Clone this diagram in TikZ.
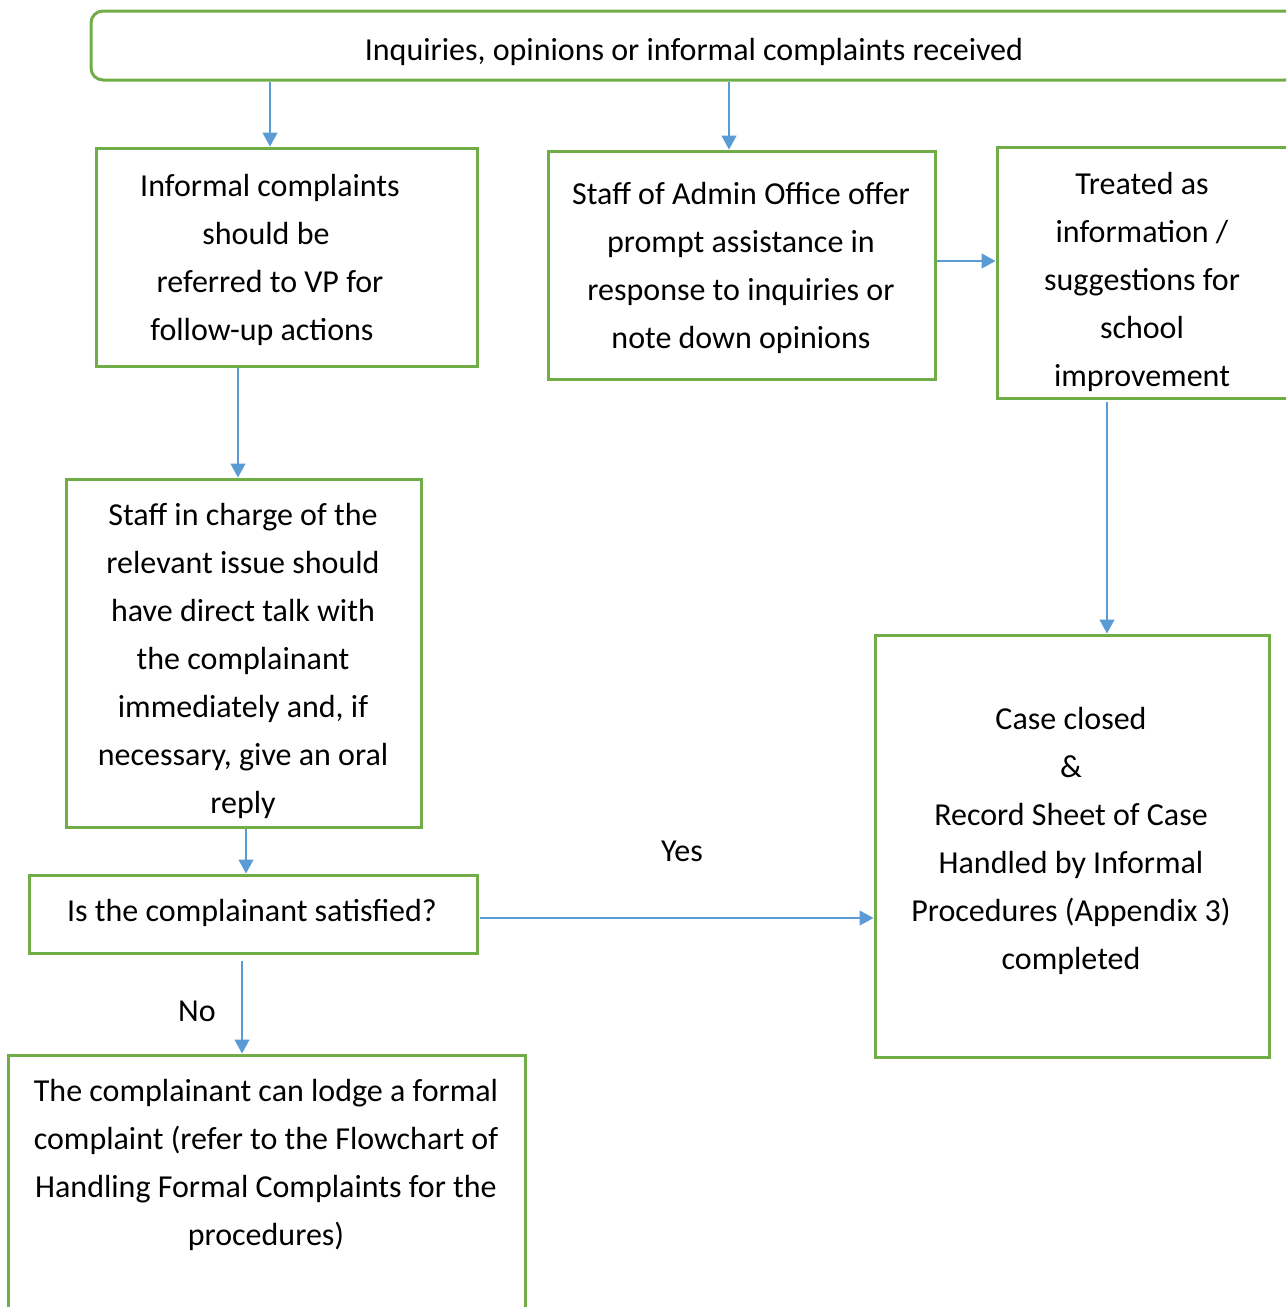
\documentclass[tikz,border=0pt]{standalone}
\usepackage{fontspec}
\setmainfont{Carlito}
\usetikzlibrary{arrows.meta,calc}
\definecolor{bgreen}{HTML}{70AD47}
\definecolor{ablue}{HTML}{5B9BD5}
\begin{document}
\begin{tikzpicture}[x=1pt,y=-1pt,
 box/.style={draw=bgreen, line width=3pt, rectangle, inner sep=0pt},
 txt/.style={align=center, font=\fontsize{32}{48}\selectfont, inner sep=0pt, text=black},
 arr/.style={draw=ablue, line width=1.4pt, -{Triangle[length=14pt,width=15pt]}},
]
\useasboundingbox (0,0) rectangle (1286,1307);
\clip (0,0) rectangle (1286,1307);

% boxes
\node[box, rounded corners=12pt, minimum width=1206, minimum height=69] (top) at (694,45.5) {};
\node[box, minimum width=381, minimum height=218] (A) at (286.5,257) {};
\node[box, minimum width=387, minimum height=228] (B) at (741.5,265) {};
\node[box, minimum width=293, minimum height=251] (C) at (1143.5,272.5) {};
\node[box, minimum width=355, minimum height=348] (D) at (243.5,653) {};
\node[box, minimum width=448, minimum height=78] (Q) at (253,914) {};
\node[box, minimum width=394, minimum height=422] (E) at (1072,846) {};
\node[box, minimum width=517, minimum height=275] (F) at (266.5,1192.5) {};

% texts
\node[txt] (ttop) at (694,52) {Inquiries, opinions or informal complaints received};
\node[txt] (tA) at (266,260) {\hspace*{8pt}Informal complaints\\should be\hspace*{8pt}\\\hspace*{8pt}referred to VP for\\follow-up actions\hspace*{8pt}};
\node[txt] (tB) at (741,268) {Staff of Admin Office offer\\prompt assistance in\\response to inquiries or\\note down opinions};
\begin{scope}
\clip (997,147) rectangle (1290,396.5);
\node[txt] (tC) at (1142,282) {Treated as\\information /\\suggestions for\\school\\improvement};
\end{scope}
\node[txt] (tD) at (243,661) {Staff in charge of the\\relevant issue should\\have direct talk with\\the complainant\\immediately and, if\\necessary, give an oral\\reply};
\node[txt] (tQ) at (252,913) {Is the complainant satisfied?};
\node[txt] (tE) at (1071,841) {Case closed\\\&\\Record Sheet of Case\\Handled by Informal\\Procedures (Appendix 3)\\completed};
\node[txt] (tF) at (266,1165) {The complainant can lodge a formal\\complaint (refer to the Flowchart of\\Handling Formal Complaints for the\\procedures)};
\node[txt] (yes) at (682,851) {Yes};
\node[txt] (no) at (197,1011) {No};

% connectors
\draw[arr] (top.south -| 270,0) -- (A.north -| 270,0);
\draw[arr] (top.south -| 729,0) -- (B.north -| 729,0);
\draw[arr] (B.east |- 0,261) -- (C.west |- 0,261);
\draw[arr] ($(C.south -| 1107,0)+(0,2)$) -- (E.north -| 1107,0);
\draw[arr] (A.south -| 238,0) -- (D.north -| 238,0);
\draw[arr] (D.south -| 246,0) -- (Q.north -| 246,0);
\draw[arr] ($(Q.east |- 0,918)+(1.5,0)$) -- (E.west |- 0,918);
\draw[arr] ($(Q.south -| 242,0)+(0,6)$) -- (F.north -| 242,0);
\end{tikzpicture}
\end{document}
